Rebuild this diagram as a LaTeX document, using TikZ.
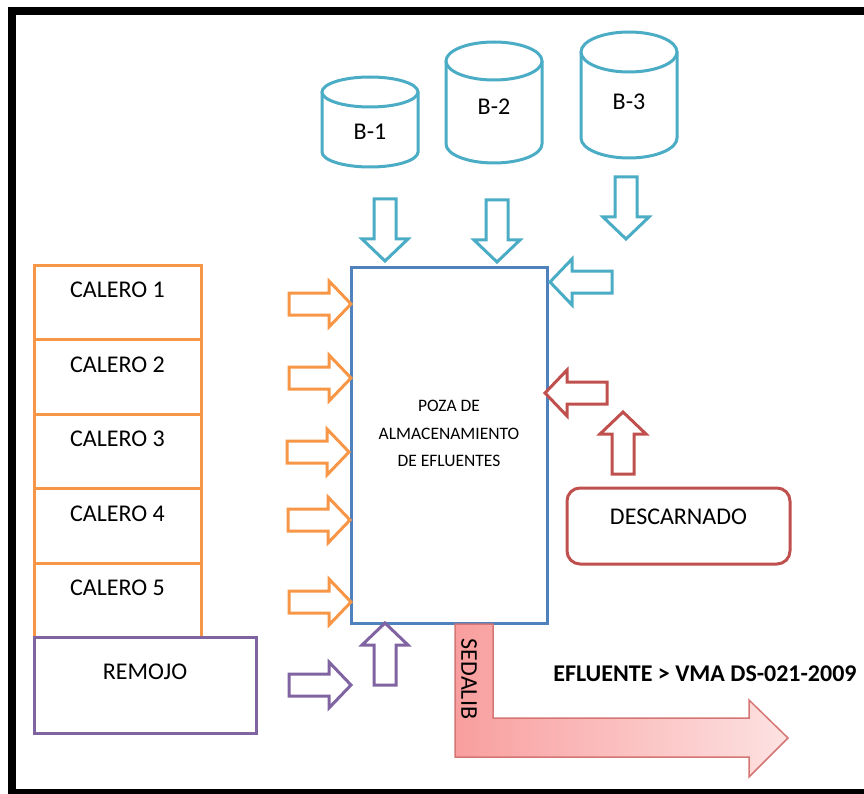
\documentclass[tikz,border=0pt]{standalone}
\usepackage{fontspec}
\setmainfont{Carlito}
\usetikzlibrary{positioning}

\definecolor{naranja}{HTML}{F79646}
\definecolor{celeste}{HTML}{4BACC6}
\definecolor{azul}{HTML}{4F81BD}
\definecolor{morado}{HTML}{8064A2}
\definecolor{rojo}{HTML}{C0504D}
\definecolor{sedborde}{RGB}{212,118,116}
\definecolor{sedizq}{RGB}{249,158,158}
\definecolor{sedder}{RGB}{253,226,226}

\tikzset{
  caja/.style={draw, line width=3pt, fill=white, inner sep=0pt},
  etiqueta/.style={anchor=center, font=\fontsize{24}{28}\selectfont},
  flecha/.style={line width=3pt, line join=miter, fill=white},
  tanque/.style={draw=celeste, line width=3pt, fill=white},
}

\begin{document}
\begin{tikzpicture}[x=1pt, y=-1pt]
    \useasboundingbox (0,0) rectangle (864,794);

    % marco
    \draw[line width=8pt] (872,11) -- (12,11) -- (12,793) -- (872,793);

    % tanques
    \foreach \nombre/\cx/\yt/\yb/\ry/\ly/\etq in {b1/370/92/152/15/132/B-1, b2/494/61/144/19/107/B-2, b3/629/52/138/20/102/B-3} {
        \draw[tanque] (\cx-48,\yt) -- (\cx-48,\yb)
            arc[start angle=180, end angle=0, x radius=48, y radius=\ry]
            -- (\cx+48,\yt);
        \draw[tanque] (\cx,\yt) ellipse[x radius=48, y radius=\ry];
        \node[etiqueta] (\nombre) at (\cx,\ly) {\etq};
    }

    % caleros
    \foreach \i in {1,...,5} {
        \node[caja, draw=naranja, minimum width=167pt, minimum height=74.5pt,
              label={[etiqueta, yshift=12pt]center:CALERO \i}]
            (cal\i) at (117.5,{302.25+74.5*(\i-1)}) {};
    }

    \node[caja, draw=morado, minimum width=222pt, minimum height=96pt,
          label={[etiqueta, yshift=13pt]center:REMOJO}] (remojo) at (145,685) {};

    \node[caja, draw=azul, minimum width=196pt, minimum height=356pt,
          label={[anchor=center, align=center, yshift=11.5pt,
                  font=\fontsize{17.5}{27.5}\selectfont]center:POZA DE\\ALMACENAMIENTO\\DE EFLUENTES}]
        (poza) at (449,445) {};

    \node[caja, draw=rojo, rounded corners=13pt, minimum width=223pt, minimum height=76pt,
          label={[etiqueta, yshift=9pt]center:DESCARNADO}] (descarnado) at (678.5,526) {};

    % flechas de bloque
    \foreach \x/\y/\ang/\col in {351/304/0/naranja, 351/378/0/naranja, 349/452/0/naranja,
            350/520/0/naranja, 351/602/0/naranja, 351/685/0/morado, 385/623/90/morado,
            385/261/-90/celeste, 497/262/-90/celeste, 626/239/-90/celeste,
            550/282/180/celeste, 545/393/180/rojo, 623/412/90/rojo} {
        \draw[flecha, draw=\col, shift={(\x,\y)}, rotate=\ang]
            (0,0) -- (-22,-23) -- (-22,-11) -- (-62,-11) -- (-62,11)
            -- (-22,11) -- (-22,23) -- cycle;
    }

    % salida a SEDALIB
    \draw[draw=sedborde, line width=1.5pt, left color=sedizq, right color=sedder]
        (455,624) -- (493,624) -- (493,718) -- (749,718) -- (749,700)
        -- (788,738) -- (749,777) -- (749,757) -- (455,757) -- cycle;
    \node[etiqueta, rotate=-90] (sedalib) at (469,679) {SEDALIB};

    \node[etiqueta, font=\fontsize{24}{28}\selectfont\bfseries] (efluente) at (705,674)
        {EFLUENTE > VMA DS-021-2009};
\end{tikzpicture}
\end{document}
